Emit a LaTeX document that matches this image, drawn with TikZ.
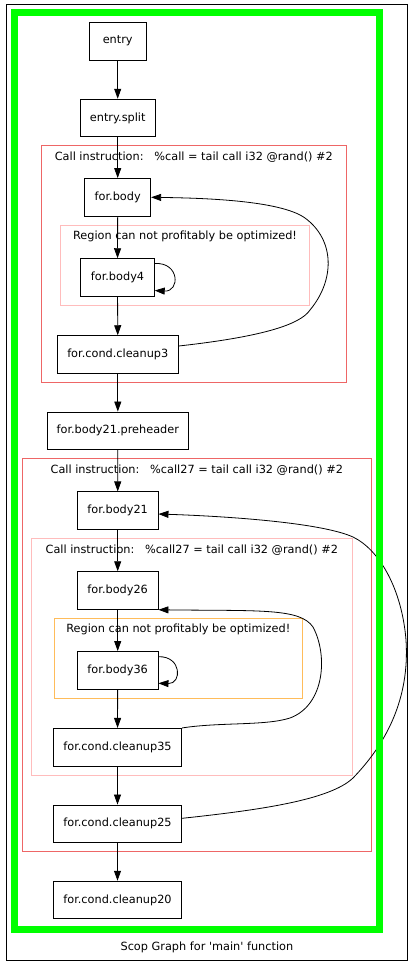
\documentclass[tikz,border=0pt]{standalone}
\usepackage{fontspec}
\setmainfont{DejaVu Sans}
\usepackage{xcolor}
\usetikzlibrary{arrows.meta}
\definecolor{clred}{RGB}{238,102,102}
\definecolor{clpink}{RGB}{255,188,188}
\definecolor{clorange}{RGB}{255,188,90}

\begin{document}
\begin{tikzpicture}[x=1pt,y=-1pt,>={Triangle[length=10pt,width=7pt]},
bb/.style={draw,line width=0.8pt,minimum height=37.7pt,inner sep=0pt,font=\fontsize{11.3}{13}\selectfont},
lbl/.style={inner sep=0pt,font=\fontsize{11.3}{13}\selectfont},
edge/.style={->,line width=0.8pt}]
\useasboundingbox (0,0) rectangle (414,967);
\draw[line width=1pt] (6.7,4.7) rectangle (407,960.7);
\draw[clred,line width=1pt] (41,145.7) rectangle (346.7,382.3);
\draw[clpink,line width=1pt] (60.7,225.3) rectangle (309.3,305.3);
\draw[clred,line width=1pt] (22.7,458.7) rectangle (371,851.7);
\draw[clpink,line width=1pt] (31.3,538.3) rectangle (352.3,775.3);
\draw[clorange,line width=1pt] (54.3,618.3) rectangle (302.3,698.3);
\node[lbl] (call1) at (193.8,156.7) {Call instruction:\ \ \ \%call = tail call i32 @rand() \#2};
\node[lbl] (region1) at (185,236.7) {Region can not profitably be optimized!};
\node[lbl] (call2) at (196.8,470) {Call instruction:\ \ \ \%call27 = tail call i32 @rand() \#2};
\node[lbl] (call3) at (191.8,550) {Call instruction:\ \ \ \%call27 = tail call i32 @rand() \#2};
\node[lbl] (region2) at (178.3,629.3) {Region can not profitably be optimized!};
\node[bb,minimum width=56.7pt] (entry) at (117.7,41.2) {entry};
\node[bb,minimum width=74.7pt] (split) at (117.7,118) {entry.split};
\node[bb,minimum width=66pt] (body) at (117.7,197.3) {for.body};
\node[bb,minimum width=73.6pt] (body4) at (117.5,277.5) {for.body4};
\node[bb,minimum width=121pt] (clean3) at (117.8,354.5) {for.cond.cleanup3};
\node[bb,minimum width=141pt] (pre21) at (117.8,430.8) {for.body21.preheader};
\node[bb,minimum width=80.7pt] (body21) at (117.7,510.7) {for.body21};
\node[bb,minimum width=80.7pt] (body26) at (117.7,590.5) {for.body26};
\node[bb,minimum width=80.7pt] (body36) at (117.7,670.3) {for.body36};
\node[bb,minimum width=128.4pt] (clean35) at (117.5,747.2) {for.cond.cleanup35};
\node[bb,minimum width=128.4pt] (clean25) at (117.5,823.8) {for.cond.cleanup25};
\node[bb,minimum width=128.4pt] (clean20) at (117.5,900) {for.cond.cleanup20};
\draw[edge] (entry) -- (split);
\draw[edge] (split) -- (body);
\draw[edge] (body) -- (body4);
\draw[edge] (body4) -- (clean3);
\draw[edge] (clean3) -- (pre21);
\draw[edge] (pre21) -- (body21);
\draw[edge] (body21) -- (body26);
\draw[edge] (body26) -- (body36);
\draw[edge] (body36) -- (clean35);
\draw[edge] (clean35) -- (clean25);
\draw[edge] (clean25) -- (clean20);
\draw[edge] ([yshift=14pt]body4.east) .. controls (180,262) and (180,292) .. ([yshift=-13pt]body4.east);
\draw[edge] ([yshift=13.6pt]body36.east) .. controls (182,656) and (182,684) .. ([yshift=-13pt]body36.east);
\draw[edge] ([yshift=8.5pt]clean3.east) .. controls (260,337) and (300,325) .. (310,310)
  .. controls (335,280) and (335,240) .. (305,218) .. controls (280,200) and (200,198) .. (body.east);
\draw[edge] (clean35.north east) .. controls (220,722) and (265,726) .. (290,718)
  .. controls (325,705) and (328,655) .. (313,627) .. controls (300,608) and (260,611) .. (body26.south east);
\draw[edge] ([yshift=5.5pt]clean25.east) .. controls (260,810) and (330,800) .. (353,778)
  .. controls (385,745) and (410,700) .. (406,640) .. controls (402,590) and (380,550) .. (353,537)
  .. controls (320,522) and (220,516) .. ([yshift=-3.3pt]body21.east);
\draw[green,line width=7pt] (14,12.8) rectangle (379,929);
\node[lbl] (title) at (206.9,947) {Scop Graph for \textquotesingle main\textquotesingle\ function};
\end{tikzpicture}
\end{document}
